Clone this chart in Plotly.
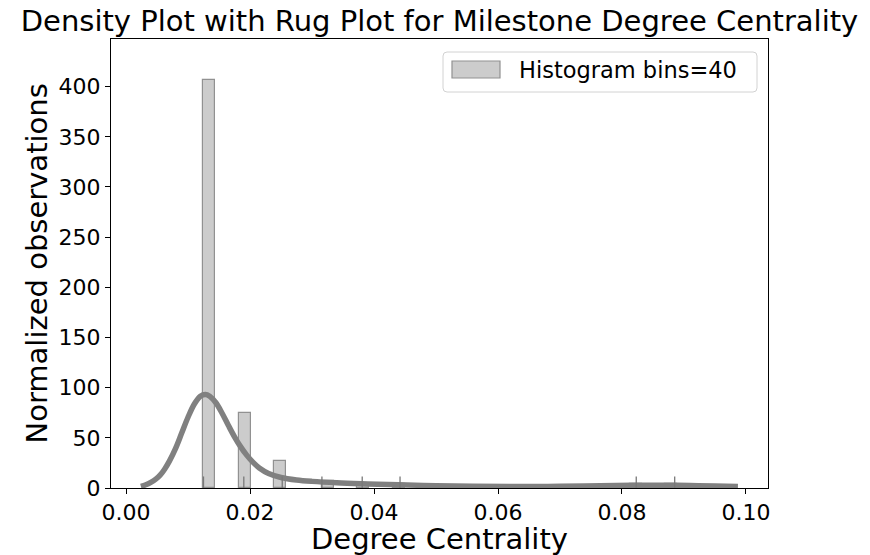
import plotly.graph_objects as go

# ---------------- data ----------------
bin_width = 0.00191
bin_centers = [0.01343, 0.01916, 0.02490, 0.03254, 0.03827, 0.04400, 0.08222, 0.08795]
bin_heights = [406.5, 74.5, 27.2, 7.2, 3.6, 3.6, 3.6, 3.6]

rug_values = [0.01250, 0.0190, 0.0252, 0.0316, 0.0381, 0.0442, 0.0823, 0.0885]

kde_x = [0.0024, 0.0032, 0.0040, 0.0048, 0.0055, 0.0062, 0.0070, 0.0080, 0.0090,
         0.0100, 0.0110, 0.0120, 0.0128, 0.0135, 0.0145, 0.0155, 0.0165, 0.0175,
         0.0185, 0.0195, 0.0205, 0.0215, 0.0230, 0.0250, 0.0275, 0.0300, 0.0340,
         0.0390, 0.0440, 0.0500, 0.0560, 0.0620, 0.0680, 0.0740, 0.0790, 0.0830,
         0.0870, 0.0910, 0.0950, 0.0987]
kde_y = [1.6, 3.2, 5.6, 8.8, 12.8, 18.5, 26.8, 39.5, 55.0,
         70.5, 83.5, 91.5, 93.2, 91.5, 85.0, 74.5, 62.5, 51.0,
         41.0, 32.5, 25.5, 20.0, 14.5, 10.5, 8.0, 6.6, 5.2,
         4.1, 3.2, 2.3, 1.7, 1.5, 1.6, 1.9, 2.4, 2.8,
         2.8, 2.5, 2.0, 1.6]

x_tick_vals = [0.00, 0.02, 0.04, 0.06, 0.08, 0.10]
y_tick_vals = [0, 50, 100, 150, 200, 250, 300, 350, 400]

title_text = "Density Plot with Rug Plot for Milestone Degree Centrality"
x_label = "Degree Centrality"
y_label = "Normalized observations"
legend_label = "Histogram bins=40"

# ---------------- figure ----------------
FONT = "DejaVu Sans"
W, H = 870, 555
L, R, T, B = 111, 102, 39, 67
pw, ph = W - L - R, H - T - B

def px_x(p):
    return (p - L) / pw

def px_y(p):
    return (H - B - p) / ph

fig = go.Figure()

fig.add_trace(go.Bar(
    x=bin_centers, y=bin_heights, width=[bin_width] * len(bin_centers),
    marker=dict(color="rgb(204,204,204)", line=dict(color="rgb(145,145,145)", width=1.2)),
    showlegend=False, hoverinfo="skip",
))

fig.add_trace(go.Scatter(
    x=kde_x, y=kde_y, mode="lines",
    line=dict(color="rgb(128,128,128)", width=5.5, shape="spline", smoothing=1.0),
    showlegend=False, hoverinfo="skip",
))

rug_h = 11.5
rx, ry = [], []
for v in rug_values:
    rx += [v, v, None]
    ry += [0, rug_h, None]
fig.add_trace(go.Scatter(
    x=rx, y=ry, mode="lines",
    line=dict(color="rgb(120,120,120)", width=1.3),
    showlegend=False, hoverinfo="skip",
))

axis_common = dict(
    showline=True, linecolor="black", linewidth=1.1, mirror=True,
    ticks="outside", ticklen=5, tickwidth=1.1, tickcolor="black",
    showgrid=False, zeroline=False,
    tickfont=dict(family=FONT, size=22, color="black"),
)

fig.update_xaxes(range=[-0.00242, 0.10355], tickvals=x_tick_vals,
                 tickformat=".2f", **axis_common)
fig.update_yaxes(range=[0, 447.5], tickvals=y_tick_vals, **axis_common)

# legend box drawn manually to match the reference legend
bx0, bx1 = px_x(443), px_x(757)
by0, by1 = px_y(92), px_y(52)
rrx, rry = 4 / pw, 4 / ph
path = (f"M {bx0+rrx},{by0} L {bx1-rrx},{by0} Q {bx1},{by0} {bx1},{by0+rry} "
        f"L {bx1},{by1-rry} Q {bx1},{by1} {bx1-rrx},{by1} L {bx0+rrx},{by1} "
        f"Q {bx0},{by1} {bx0},{by1-rry} L {bx0},{by0+rry} Q {bx0},{by0} {bx0+rrx},{by0} Z")
shapes = [
    dict(type="path", xref="paper", yref="paper", path=path,
         fillcolor="rgba(255,255,255,0.8)", line=dict(color="rgb(210,210,210)", width=1)),
    dict(type="rect", xref="paper", yref="paper",
         x0=px_x(452), x1=px_x(500), y0=px_y(78), y1=px_y(61),
         fillcolor="rgb(204,204,204)", line=dict(color="rgb(145,145,145)", width=1.2)),
]

annotations = [
    dict(text=legend_label, xref="paper", yref="paper", x=px_x(517), y=px_y(70),
         xanchor="left", yanchor="middle", showarrow=False,
         font=dict(family=FONT, size=22.5, color="black")),
    dict(text=x_label, xref="paper", yref="paper", x=0.5, y=0, yshift=-51,
         xanchor="center", yanchor="middle", showarrow=False,
         font=dict(family=FONT, size=29, color="black")),
    dict(text=y_label, xref="paper", yref="paper", x=0, y=0.5, xshift=-75,
         xanchor="center", yanchor="middle", textangle=-90, showarrow=False,
         font=dict(family=FONT, size=29, color="black")),
]

fig.update_layout(
    width=W, height=H,
    margin=dict(l=L, r=R, t=T, b=B, pad=0),
    paper_bgcolor="white", plot_bgcolor="white",
    title=dict(text=title_text, x=0.5, xref="paper", xanchor="center",
               y=1 - 21 / H, yref="container", yanchor="middle",
               font=dict(family=FONT, size=29, color="black")),
    shapes=shapes, annotations=annotations,
    showlegend=False, bargap=0,
)

fig.write_html("out.html")
